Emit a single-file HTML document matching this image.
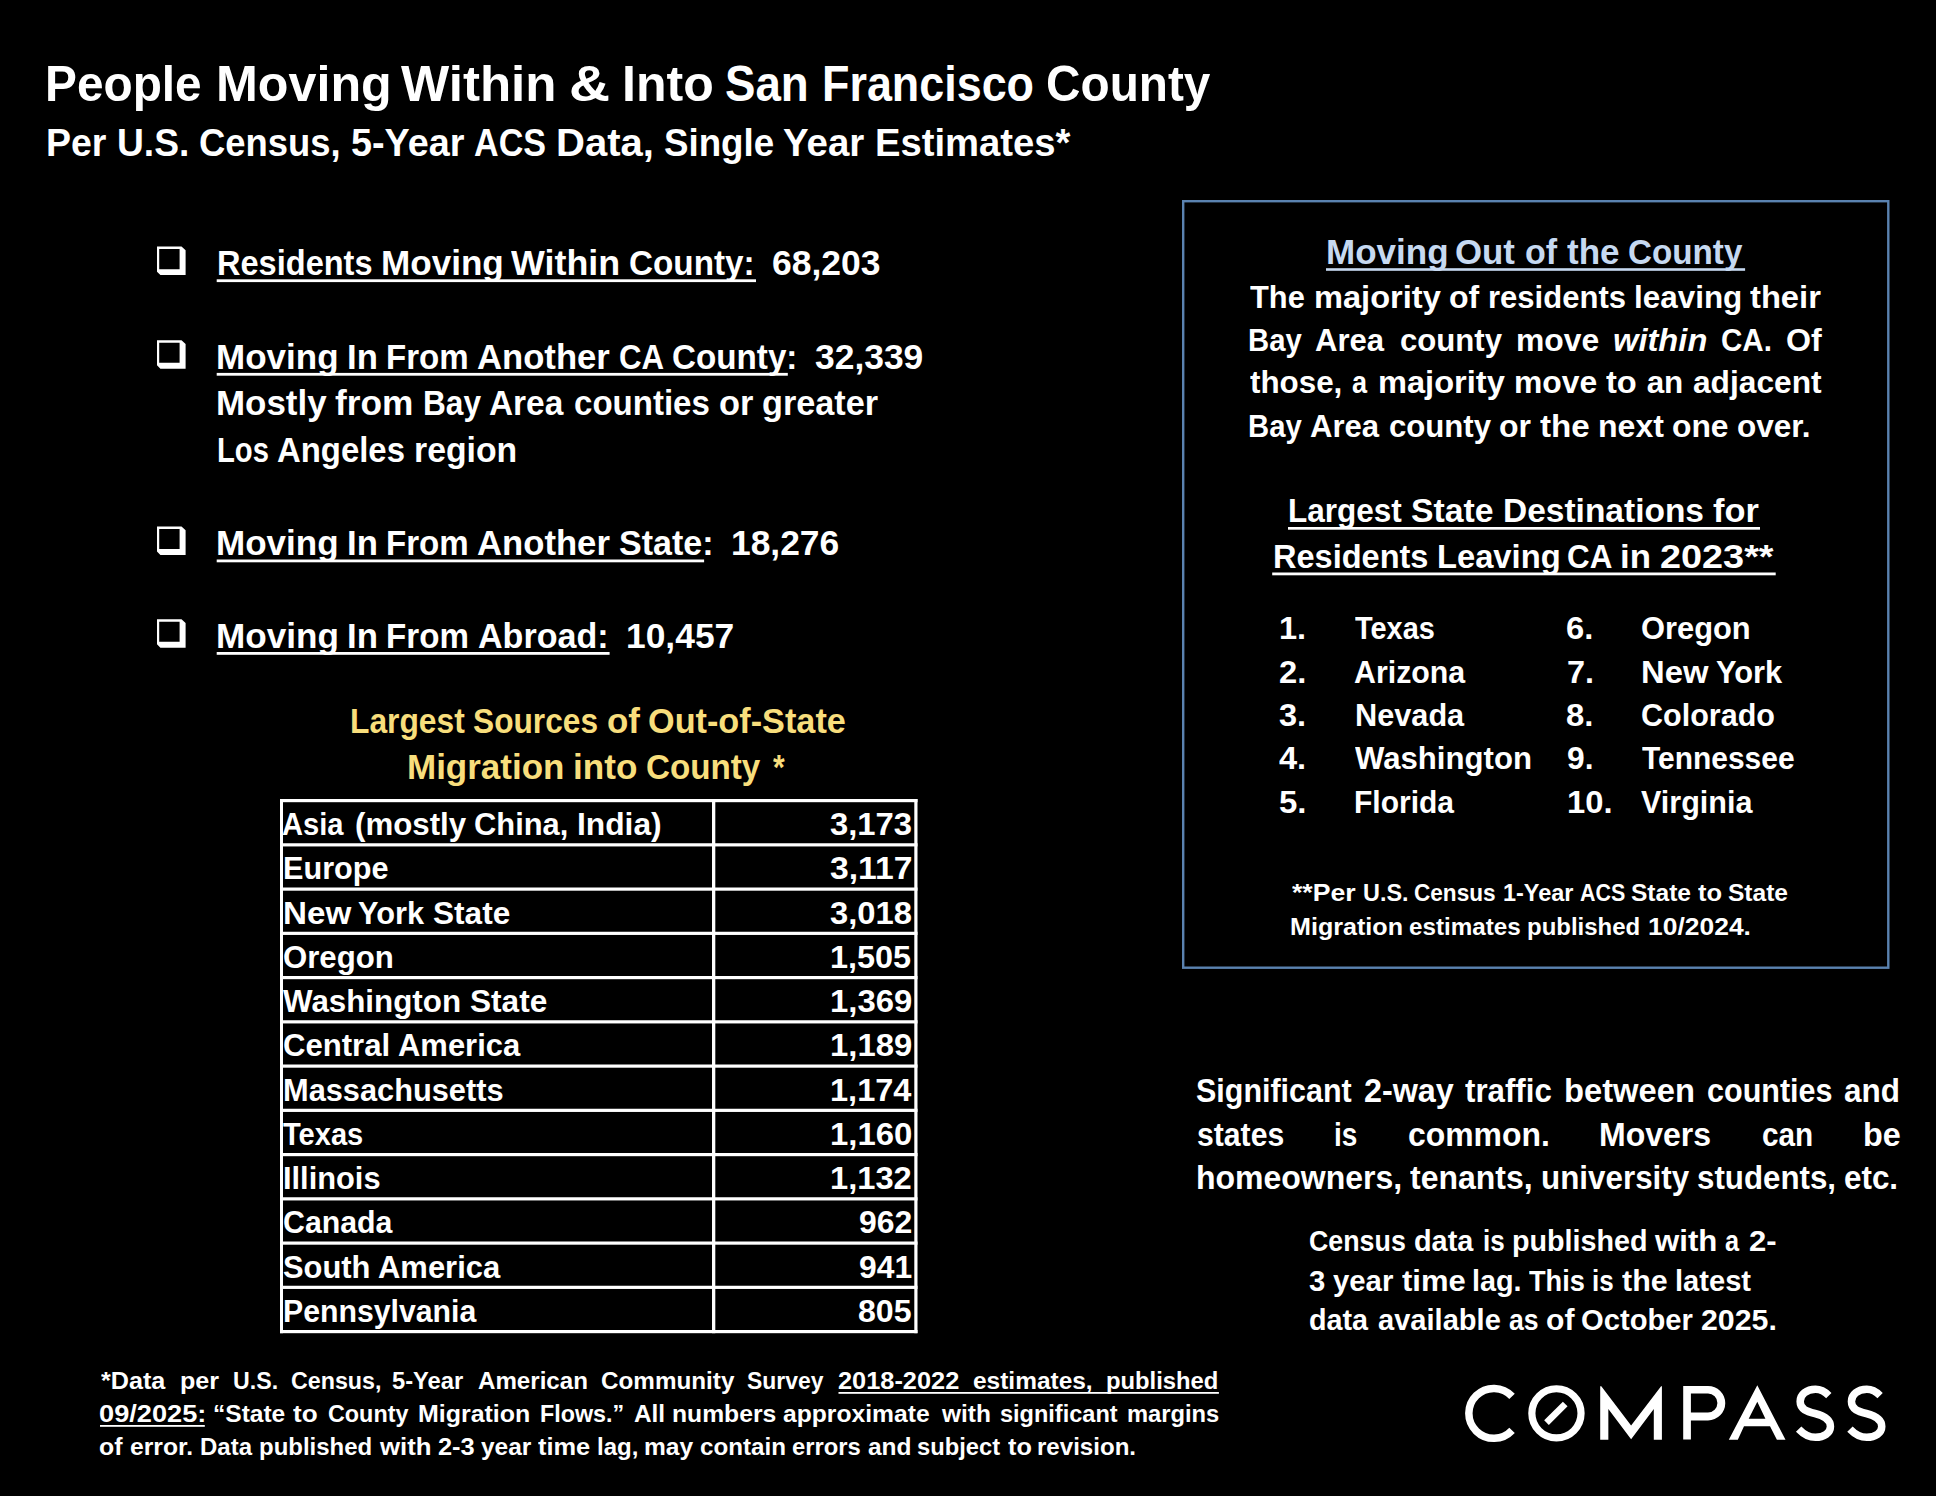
<!DOCTYPE html>
<html><head><meta charset="utf-8"><title>People Moving Within &amp; Into San Francisco County</title><style>html,body{margin:0;padding:0;background:#000;} body{position:relative;width:1936px;height:1496px;overflow:hidden;font-family:"Liberation Sans", sans-serif;font-weight:bold;color:#fff;} .l{position:absolute;white-space:pre;line-height:1;transform-origin:0 0;} i{font-style:italic;} .j{text-align:justify;text-align-last:justify;white-space:normal;}</style></head><body>
<div class="l" style="left:45.34px;top:58.60px;font-size:50.141px;transform:scaleX(0.9534);">People</div>
<div class="l" style="left:215.68px;top:58.60px;font-size:50.141px;transform:scaleX(1.0019);">Moving</div>
<div class="l" style="left:401.36px;top:58.60px;font-size:50.141px;transform:scaleX(1.0186);">Within</div>
<div class="l" style="left:568.98px;top:58.60px;font-size:50.141px;transform:scaleX(1.1350);">&amp;</div>
<div class="l" style="left:621.87px;top:58.60px;font-size:50.141px;transform:scaleX(0.9983);">Into</div>
<div class="l" style="left:725.11px;top:58.60px;font-size:50.141px;transform:scaleX(0.9110);">San</div>
<div class="l" style="left:821.85px;top:58.60px;font-size:50.141px;transform:scaleX(0.8954);">Francisco</div>
<div class="l" style="left:1045.68px;top:58.60px;font-size:50.141px;transform:scaleX(0.9525);">County</div>
<div class="l" style="left:45.67px;top:124.30px;font-size:38.732px;transform:scaleX(0.9673);">Per</div>
<div class="l" style="left:116.86px;top:124.30px;font-size:38.732px;transform:scaleX(0.9610);">U.S.</div>
<div class="l" style="left:198.74px;top:124.30px;font-size:38.732px;transform:scaleX(0.9408);">Census,</div>
<div class="l" style="left:350.77px;top:124.30px;font-size:38.732px;transform:scaleX(0.9752);">5-Year</div>
<div class="l" style="left:473.81px;top:124.30px;font-size:38.732px;transform:scaleX(0.8810);">ACS</div>
<div class="l" style="left:556.16px;top:124.30px;font-size:38.732px;transform:scaleX(1.0343);">Data,</div>
<div class="l" style="left:663.69px;top:124.30px;font-size:38.732px;transform:scaleX(0.9483);">Single</div>
<div class="l" style="left:782.83px;top:124.30px;font-size:38.732px;transform:scaleX(0.9928);">Year</div>
<div class="l" style="left:874.55px;top:124.30px;font-size:38.732px;transform:scaleX(0.9871);">Estimates*</div>
<div class="l" style="left:216.57px;top:246.10px;font-size:35.493px;transform:scaleX(0.9173);">Residents</div>
<div class="l" style="left:381.07px;top:246.10px;font-size:35.493px;transform:scaleX(0.9888);">Moving</div>
<div class="l" style="left:511.06px;top:246.10px;font-size:35.493px;transform:scaleX(1.0100);">Within</div>
<div class="l" style="left:628.78px;top:246.10px;font-size:35.493px;transform:scaleX(0.9378);">County:</div>
<div class="l" style="left:771.87px;top:246.10px;font-size:35.493px;transform:scaleX(0.9993);">68,203</div>
<div class="l" style="left:216.43px;top:339.70px;font-size:35.493px;transform:scaleX(0.9868);">Moving</div>
<div class="l" style="left:346.68px;top:339.70px;font-size:35.493px;transform:scaleX(0.9778);">In</div>
<div class="l" style="left:386.01px;top:339.70px;font-size:35.493px;transform:scaleX(0.9315);">From</div>
<div class="l" style="left:477.00px;top:339.70px;font-size:35.493px;transform:scaleX(0.9764);">Another</div>
<div class="l" style="left:619.01px;top:339.70px;font-size:35.493px;transform:scaleX(0.8801);">CA</div>
<div class="l" style="left:671.64px;top:339.70px;font-size:35.493px;transform:scaleX(0.9359);">County:</div>
<div class="l" style="left:814.61px;top:339.70px;font-size:35.493px;transform:scaleX(0.9980);">32,339</div>
<div class="l" style="left:216.43px;top:386.20px;font-size:35.493px;transform:scaleX(0.9844);">Mostly</div>
<div class="l" style="left:335.03px;top:386.20px;font-size:35.493px;transform:scaleX(0.9933);">from</div>
<div class="l" style="left:422.86px;top:386.20px;font-size:35.493px;transform:scaleX(0.8905);">Bay</div>
<div class="l" style="left:488.83px;top:386.20px;font-size:35.493px;transform:scaleX(0.9414);">Area</div>
<div class="l" style="left:574.09px;top:386.20px;font-size:35.493px;transform:scaleX(0.9311);">counties</div>
<div class="l" style="left:719.06px;top:386.20px;font-size:35.493px;transform:scaleX(0.9674);">or</div>
<div class="l" style="left:762.18px;top:386.20px;font-size:35.493px;transform:scaleX(0.9652);">greater</div>
<div class="l" style="left:216.75px;top:433.30px;font-size:35.493px;transform:scaleX(0.8232);">Los</div>
<div class="l" style="left:276.76px;top:433.30px;font-size:35.493px;transform:scaleX(0.9269);">Angeles</div>
<div class="l" style="left:413.74px;top:433.30px;font-size:35.493px;transform:scaleX(0.9515);">region</div>
<div class="l" style="left:216.43px;top:526.00px;font-size:35.493px;transform:scaleX(0.9874);">Moving</div>
<div class="l" style="left:346.77px;top:526.00px;font-size:35.493px;transform:scaleX(0.9784);">In</div>
<div class="l" style="left:386.12px;top:526.00px;font-size:35.493px;transform:scaleX(0.9322);">From</div>
<div class="l" style="left:477.17px;top:526.00px;font-size:35.493px;transform:scaleX(0.9770);">Another</div>
<div class="l" style="left:619.13px;top:526.00px;font-size:35.493px;transform:scaleX(0.9584);">State:</div>
<div class="l" style="left:730.72px;top:526.00px;font-size:35.493px;transform:scaleX(0.9970);">18,276</div>
<div class="l" style="left:216.42px;top:618.70px;font-size:35.493px;transform:scaleX(0.9893);">Moving</div>
<div class="l" style="left:347.01px;top:618.70px;font-size:35.493px;transform:scaleX(0.9803);">In</div>
<div class="l" style="left:386.44px;top:618.70px;font-size:35.493px;transform:scaleX(0.9339);">From</div>
<div class="l" style="left:477.68px;top:618.70px;font-size:35.493px;transform:scaleX(0.9596);">Abroad:</div>
<div class="l" style="left:625.89px;top:618.70px;font-size:35.493px;transform:scaleX(0.9973);">10,457</div>
<div class="l" style="left:349.59px;top:702.80px;font-size:35.070px;transform:scaleX(0.9060);color:#F8DE7C;">Largest</div>
<div class="l" style="left:472.90px;top:702.80px;font-size:35.070px;transform:scaleX(0.9034);color:#F8DE7C;">Sources</div>
<div class="l" style="left:606.61px;top:702.80px;font-size:35.070px;transform:scaleX(0.9951);color:#F8DE7C;">of</div>
<div class="l" style="left:648.29px;top:702.80px;font-size:35.070px;transform:scaleX(0.9768);color:#F8DE7C;">Out-of-State</div>
<div class="l" style="left:407.00px;top:749.40px;font-size:35.070px;transform:scaleX(0.9981);color:#F8DE7C;">Migration</div>
<div class="l" style="left:573.22px;top:749.40px;font-size:35.070px;transform:scaleX(1.0016);color:#F8DE7C;">into</div>
<div class="l" style="left:646.12px;top:749.40px;font-size:35.070px;transform:scaleX(0.9468);color:#F8DE7C;">County</div>
<div class="l" style="left:773.30px;top:749.40px;font-size:35.070px;transform:scaleX(0.8574);color:#F8DE7C;">*</div>
<div class="l" style="left:1326.16px;top:234.90px;font-size:34.366px;transform:scaleX(1.0192);color:#C6D9F1;">Moving</div>
<div class="l" style="left:1455.47px;top:234.90px;font-size:34.366px;transform:scaleX(1.0137);color:#C6D9F1;">Out</div>
<div class="l" style="left:1524.76px;top:234.90px;font-size:34.366px;transform:scaleX(0.9906);color:#C6D9F1;">of</div>
<div class="l" style="left:1566.68px;top:234.90px;font-size:34.366px;transform:scaleX(1.0208);color:#C6D9F1;">the</div>
<div class="l" style="left:1628.47px;top:234.90px;font-size:34.366px;transform:scaleX(0.9663);color:#C6D9F1;">County</div>
<div class="l" style="left:1250.00px;top:281.80px;font-size:31.408px;transform:scaleX(0.9814);">The</div>
<div class="l" style="left:1313.76px;top:281.80px;font-size:31.408px;transform:scaleX(1.0385);">majority</div>
<div class="l" style="left:1449.22px;top:281.80px;font-size:31.408px;transform:scaleX(1.0206);">of</div>
<div class="l" style="left:1488.43px;top:281.80px;font-size:31.408px;transform:scaleX(0.9885);">residents</div>
<div class="l" style="left:1634.47px;top:281.80px;font-size:31.408px;transform:scaleX(1.0013);">leaving</div>
<div class="l" style="left:1749.84px;top:281.80px;font-size:31.408px;transform:scaleX(1.0420);">their</div>
<div class="l" style="left:1248.14px;top:324.80px;font-size:31.408px;transform:scaleX(0.9321);">Bay</div>
<div class="l" style="left:1315.02px;top:324.80px;font-size:31.408px;transform:scaleX(0.9901);">Area</div>
<div class="l" style="left:1399.74px;top:324.80px;font-size:31.408px;transform:scaleX(0.9917);">county</div>
<div class="l" style="left:1515.86px;top:324.80px;font-size:31.408px;transform:scaleX(1.0151);">move</div>
<div class="l" style="left:1612.94px;top:324.80px;font-size:31.408px;transform:scaleX(1.0404);"><i>within</i></div>
<div class="l" style="left:1721.28px;top:324.80px;font-size:31.408px;transform:scaleX(0.9410);">CA.</div>
<div class="l" style="left:1785.73px;top:324.80px;font-size:31.408px;transform:scaleX(1.0249);">Of</div>
<div class="l" style="left:1250.00px;top:367.30px;font-size:31.408px;transform:scaleX(0.9980);">those,</div>
<div class="l" style="left:1351.93px;top:367.30px;font-size:31.408px;transform:scaleX(0.8622);">a</div>
<div class="l" style="left:1378.22px;top:367.30px;font-size:31.408px;transform:scaleX(1.0385);">majority</div>
<div class="l" style="left:1514.04px;top:367.30px;font-size:31.408px;transform:scaleX(1.0151);">move</div>
<div class="l" style="left:1606.41px;top:367.30px;font-size:31.408px;transform:scaleX(1.0388);">to</div>
<div class="l" style="left:1646.63px;top:367.30px;font-size:31.408px;transform:scaleX(1.0000);">an</div>
<div class="l" style="left:1692.51px;top:367.30px;font-size:31.408px;transform:scaleX(1.0093);">adjacent</div>
<div class="l" style="left:1248.14px;top:410.80px;font-size:31.408px;transform:scaleX(0.9321);">Bay</div>
<div class="l" style="left:1309.61px;top:410.80px;font-size:31.408px;transform:scaleX(0.9901);">Area</div>
<div class="l" style="left:1388.92px;top:410.80px;font-size:31.408px;transform:scaleX(0.9917);">county</div>
<div class="l" style="left:1499.48px;top:410.80px;font-size:31.408px;transform:scaleX(1.0200);">or</div>
<div class="l" style="left:1540.12px;top:410.80px;font-size:31.408px;transform:scaleX(1.0566);">the</div>
<div class="l" style="left:1598.11px;top:410.80px;font-size:31.408px;transform:scaleX(1.0215);">next</div>
<div class="l" style="left:1672.25px;top:410.80px;font-size:31.408px;transform:scaleX(1.0136);">one</div>
<div class="l" style="left:1737.34px;top:410.80px;font-size:31.408px;transform:scaleX(1.0037);">over.</div>
<div class="l" style="left:1288.37px;top:494.60px;font-size:32.676px;transform:scaleX(0.9649);">Largest</div>
<div class="l" style="left:1411.22px;top:494.60px;font-size:32.676px;transform:scaleX(1.0328);">State</div>
<div class="l" style="left:1502.86px;top:494.60px;font-size:32.676px;transform:scaleX(1.0256);">Destinations</div>
<div class="l" style="left:1712.95px;top:494.60px;font-size:32.676px;transform:scaleX(1.0522);">for</div>
<div class="l" style="left:1272.81px;top:541.00px;font-size:32.676px;transform:scaleX(0.9959);">Residents</div>
<div class="l" style="left:1436.98px;top:541.00px;font-size:32.676px;transform:scaleX(1.0018);">Leaving</div>
<div class="l" style="left:1567.23px;top:541.00px;font-size:32.676px;transform:scaleX(0.9610);">CA</div>
<div class="l" style="left:1619.80px;top:541.00px;font-size:32.676px;transform:scaleX(1.0650);">in</div>
<div class="l" style="left:1659.51px;top:541.00px;font-size:32.676px;transform:scaleX(1.1581);">2023**</div>
<div class="l" style="left:1291.80px;top:881.20px;font-size:23.944px;transform:scaleX(1.1135);">**Per</div>
<div class="l" style="left:1362.58px;top:881.20px;font-size:23.944px;transform:scaleX(0.9775);">U.S.</div>
<div class="l" style="left:1414.20px;top:881.20px;font-size:23.944px;transform:scaleX(0.9432);">Census</div>
<div class="l" style="left:1503.26px;top:881.20px;font-size:23.944px;transform:scaleX(0.9806);">1-Year</div>
<div class="l" style="left:1579.77px;top:881.20px;font-size:23.944px;transform:scaleX(0.8953);">ACS</div>
<div class="l" style="left:1631.23px;top:881.20px;font-size:23.944px;transform:scaleX(1.0251);">State</div>
<div class="l" style="left:1698.14px;top:881.20px;font-size:23.944px;transform:scaleX(1.0646);">to</div>
<div class="l" style="left:1728.24px;top:881.20px;font-size:23.944px;transform:scaleX(1.0251);">State</div>
<div class="l" style="left:1289.95px;top:914.50px;font-size:23.944px;transform:scaleX(1.0492);">Migration</div>
<div class="l" style="left:1408.76px;top:914.50px;font-size:23.944px;transform:scaleX(1.0117);">estimates</div>
<div class="l" style="left:1526.71px;top:914.50px;font-size:23.944px;transform:scaleX(1.0010);">published</div>
<div class="l" style="left:1647.56px;top:914.50px;font-size:23.944px;transform:scaleX(1.1047);">10/2024.</div>
<div class="l" style="left:1196.48px;top:1075.10px;font-size:32.958px;transform:scaleX(0.9246);">Significant</div>
<div class="l" style="left:1363.82px;top:1075.10px;font-size:32.958px;transform:scaleX(0.9811);">2-way</div>
<div class="l" style="left:1465.20px;top:1075.10px;font-size:32.958px;transform:scaleX(0.9484);">traffic</div>
<div class="l" style="left:1563.81px;top:1075.10px;font-size:32.958px;transform:scaleX(0.9930);">between</div>
<div class="l" style="left:1707.27px;top:1075.10px;font-size:32.958px;transform:scaleX(0.9271);">counties</div>
<div class="l" style="left:1843.94px;top:1075.10px;font-size:32.958px;transform:scaleX(0.9554);">and</div>
<div class="l" style="left:1196.88px;top:1118.70px;font-size:32.958px;transform:scaleX(0.9161);">states</div>
<div class="l" style="left:1334.30px;top:1118.70px;font-size:32.958px;transform:scaleX(0.8500);">is</div>
<div class="l" style="left:1407.53px;top:1118.70px;font-size:32.958px;transform:scaleX(0.9685);">common.</div>
<div class="l" style="left:1599.26px;top:1118.70px;font-size:32.958px;transform:scaleX(0.9723);">Movers</div>
<div class="l" style="left:1761.80px;top:1118.70px;font-size:32.958px;transform:scaleX(0.9019);">can</div>
<div class="l" style="left:1862.93px;top:1118.70px;font-size:32.958px;transform:scaleX(0.9829);">be</div>
<div class="l" style="left:1195.86px;top:1161.80px;font-size:32.958px;transform:scaleX(0.9712);">homeowners,</div>
<div class="l" style="left:1410.29px;top:1161.80px;font-size:32.958px;transform:scaleX(0.9709);">tenants,</div>
<div class="l" style="left:1540.79px;top:1161.80px;font-size:32.958px;transform:scaleX(0.9525);">university</div>
<div class="l" style="left:1696.72px;top:1161.80px;font-size:32.958px;transform:scaleX(0.9497);">students,</div>
<div class="l" style="left:1843.78px;top:1161.80px;font-size:32.958px;transform:scaleX(0.9531);">etc.</div>
<div class="l" style="left:1309.20px;top:1226.30px;font-size:29.859px;transform:scaleX(0.8979);">Census</div>
<div class="l" style="left:1413.71px;top:1226.30px;font-size:29.859px;transform:scaleX(0.9658);">data</div>
<div class="l" style="left:1482.56px;top:1226.30px;font-size:29.859px;transform:scaleX(0.8707);">is</div>
<div class="l" style="left:1511.90px;top:1226.30px;font-size:29.859px;transform:scaleX(0.9616);">published</div>
<div class="l" style="left:1655.23px;top:1226.30px;font-size:29.859px;transform:scaleX(1.0443);">with</div>
<div class="l" style="left:1725.39px;top:1226.30px;font-size:29.859px;transform:scaleX(0.8455);">a</div>
<div class="l" style="left:1749.10px;top:1226.30px;font-size:29.859px;transform:scaleX(1.0400);">2-</div>
<div class="l" style="left:1309.12px;top:1265.60px;font-size:29.859px;transform:scaleX(0.9810);">3</div>
<div class="l" style="left:1333.32px;top:1265.60px;font-size:29.859px;transform:scaleX(0.9820);">year</div>
<div class="l" style="left:1401.55px;top:1265.60px;font-size:29.859px;transform:scaleX(1.0377);">time</div>
<div class="l" style="left:1472.45px;top:1265.60px;font-size:29.859px;transform:scaleX(0.9638);">lag.</div>
<div class="l" style="left:1529.47px;top:1265.60px;font-size:29.859px;transform:scaleX(0.9114);">This</div>
<div class="l" style="left:1592.24px;top:1265.60px;font-size:29.859px;transform:scaleX(0.8707);">is</div>
<div class="l" style="left:1621.82px;top:1265.60px;font-size:29.859px;transform:scaleX(1.0196);">the</div>
<div class="l" style="left:1675.30px;top:1265.60px;font-size:29.859px;transform:scaleX(0.9756);">latest</div>
<div class="l" style="left:1309.14px;top:1305.00px;font-size:29.859px;transform:scaleX(0.9632);">data</div>
<div class="l" style="left:1378.30px;top:1305.00px;font-size:29.859px;transform:scaleX(0.9740);">available</div>
<div class="l" style="left:1508.85px;top:1305.00px;font-size:29.859px;transform:scaleX(0.8909);">as</div>
<div class="l" style="left:1545.71px;top:1305.00px;font-size:29.859px;transform:scaleX(1.0091);">of</div>
<div class="l" style="left:1581.39px;top:1305.00px;font-size:29.859px;transform:scaleX(0.9778);">October</div>
<div class="l" style="left:1700.96px;top:1305.00px;font-size:29.859px;transform:scaleX(1.0156);">2025.</div>
<div class="l" style="left:101.00px;top:1368.50px;font-size:23.944px;transform:scaleX(1.0516);">*Data</div>
<div class="l" style="left:179.80px;top:1368.50px;font-size:23.944px;transform:scaleX(1.0486);">per</div>
<div class="l" style="left:232.63px;top:1368.50px;font-size:23.944px;transform:scaleX(0.9682);">U.S.</div>
<div class="l" style="left:291.03px;top:1368.50px;font-size:23.944px;transform:scaleX(0.9714);">Census,</div>
<div class="l" style="left:391.71px;top:1368.50px;font-size:23.944px;transform:scaleX(0.9915);">5-Year</div>
<div class="l" style="left:477.89px;top:1368.50px;font-size:23.944px;transform:scaleX(1.0075);">American</div>
<div class="l" style="left:600.69px;top:1368.50px;font-size:23.944px;transform:scaleX(1.0131);">Community</div>
<div class="l" style="left:747.44px;top:1368.50px;font-size:23.944px;transform:scaleX(0.9570);">Survey</div>
<div class="l" style="left:837.94px;top:1368.50px;font-size:23.944px;transform:scaleX(1.0593);">2018-2022</div>
<div class="l" style="left:973.48px;top:1368.50px;font-size:23.944px;transform:scaleX(1.0217);">estimates,</div>
<div class="l" style="left:1105.81px;top:1368.50px;font-size:23.944px;transform:scaleX(0.9936);">published</div>
<div class="l" style="left:99.06px;top:1401.80px;font-size:23.944px;transform:scaleX(1.1363);">09/2025:</div>
<div class="l" style="left:212.75px;top:1401.80px;font-size:23.944px;transform:scaleX(1.0250);">“State</div>
<div class="l" style="left:292.70px;top:1401.80px;font-size:23.944px;transform:scaleX(1.0909);">to</div>
<div class="l" style="left:327.72px;top:1401.80px;font-size:23.944px;transform:scaleX(0.9753);">County</div>
<div class="l" style="left:417.86px;top:1401.80px;font-size:23.944px;transform:scaleX(1.0419);">Migration</div>
<div class="l" style="left:540.03px;top:1401.80px;font-size:23.944px;transform:scaleX(0.9726);">Flows.”</div>
<div class="l" style="left:633.58px;top:1401.80px;font-size:23.944px;transform:scaleX(1.0179);">All</div>
<div class="l" style="left:672.14px;top:1401.80px;font-size:23.944px;transform:scaleX(1.0316);">numbers</div>
<div class="l" style="left:783.27px;top:1401.80px;font-size:23.944px;transform:scaleX(1.0305);">approximate</div>
<div class="l" style="left:942.20px;top:1401.80px;font-size:23.944px;transform:scaleX(1.0213);">with</div>
<div class="l" style="left:1000.42px;top:1401.80px;font-size:23.944px;transform:scaleX(0.9824);">significant</div>
<div class="l" style="left:1126.72px;top:1401.80px;font-size:23.944px;transform:scaleX(0.9911);">margins</div>
<div class="l" style="left:99.46px;top:1434.70px;font-size:23.944px;transform:scaleX(1.0376);">of</div>
<div class="l" style="left:129.54px;top:1434.70px;font-size:23.944px;transform:scaleX(1.0303);">error.</div>
<div class="l" style="left:199.87px;top:1434.70px;font-size:23.944px;transform:scaleX(1.0023);">Data</div>
<div class="l" style="left:259.38px;top:1434.70px;font-size:23.944px;transform:scaleX(1.0008);">published</div>
<div class="l" style="left:379.54px;top:1434.70px;font-size:23.944px;transform:scaleX(1.0769);">with</div>
<div class="l" style="left:437.76px;top:1434.70px;font-size:23.944px;transform:scaleX(1.0610);">2-3</div>
<div class="l" style="left:480.94px;top:1434.70px;font-size:23.944px;transform:scaleX(1.0215);">year</div>
<div class="l" style="left:537.95px;top:1434.70px;font-size:23.944px;transform:scaleX(1.0617);">time</div>
<div class="l" style="left:596.80px;top:1434.70px;font-size:23.944px;transform:scaleX(1.0033);">lag,</div>
<div class="l" style="left:644.44px;top:1434.70px;font-size:23.944px;transform:scaleX(1.0255);">may</div>
<div class="l" style="left:699.83px;top:1434.70px;font-size:23.944px;transform:scaleX(1.0099);">contain</div>
<div class="l" style="left:792.26px;top:1434.70px;font-size:23.944px;transform:scaleX(0.9927);">errors</div>
<div class="l" style="left:867.72px;top:1434.70px;font-size:23.944px;transform:scaleX(1.0231);">and</div>
<div class="l" style="left:917.35px;top:1434.70px;font-size:23.944px;transform:scaleX(0.9912);">subject</div>
<div class="l" style="left:1007.57px;top:1434.70px;font-size:23.944px;transform:scaleX(1.0561);">to</div>
<div class="l" style="left:1037.42px;top:1434.70px;font-size:23.944px;transform:scaleX(1.0060);">revision.</div>
<div class="l" style="left:282.08px;top:809.20px;font-size:31.549px;transform:scaleX(0.9236);">Asia</div>
<div class="l" style="left:355.19px;top:809.20px;font-size:31.549px;transform:scaleX(0.9909);">(mostly</div>
<div class="l" style="left:474.26px;top:809.20px;font-size:31.549px;transform:scaleX(0.9788);">China,</div>
<div class="l" style="left:576.86px;top:809.20px;font-size:31.549px;transform:scaleX(1.0065);">India)</div>
<div class="l" style="left:830.30px;top:809.20px;font-size:31.549px;transform:scaleX(1.0398);">3,173</div>
<div class="l" style="left:283.06px;top:853.45px;font-size:31.549px;transform:scaleX(0.9721);">Europe</div>
<div class="l" style="left:830.27px;top:853.45px;font-size:31.549px;transform:scaleX(1.0682);">3,117</div>
<div class="l" style="left:282.97px;top:897.70px;font-size:31.549px;transform:scaleX(1.0528);">New</div>
<div class="l" style="left:358.44px;top:897.70px;font-size:31.549px;transform:scaleX(0.9758);">York</div>
<div class="l" style="left:432.84px;top:897.70px;font-size:31.549px;transform:scaleX(1.0015);">State</div>
<div class="l" style="left:830.30px;top:897.70px;font-size:31.549px;transform:scaleX(1.0388);">3,018</div>
<div class="l" style="left:282.79px;top:941.95px;font-size:31.549px;transform:scaleX(0.9881);">Oregon</div>
<div class="l" style="left:830.36px;top:941.95px;font-size:31.549px;transform:scaleX(1.0284);">1,505</div>
<div class="l" style="left:283.09px;top:986.20px;font-size:31.549px;transform:scaleX(0.9932);">Washington</div>
<div class="l" style="left:469.59px;top:986.20px;font-size:31.549px;transform:scaleX(1.0015);">State</div>
<div class="l" style="left:830.33px;top:986.20px;font-size:31.549px;transform:scaleX(1.0423);">1,369</div>
<div class="l" style="left:282.68px;top:1030.45px;font-size:31.549px;transform:scaleX(0.9860);">Central</div>
<div class="l" style="left:397.61px;top:1030.45px;font-size:31.549px;transform:scaleX(0.9819);">America</div>
<div class="l" style="left:830.33px;top:1030.45px;font-size:31.549px;transform:scaleX(1.0423);">1,189</div>
<div class="l" style="left:283.43px;top:1074.70px;font-size:31.549px;transform:scaleX(0.9757);">Massachusetts</div>
<div class="l" style="left:830.35px;top:1074.70px;font-size:31.549px;transform:scaleX(1.0318);">1,174</div>
<div class="l" style="left:283.25px;top:1118.95px;font-size:31.549px;transform:scaleX(0.9219);">Texas</div>
<div class="l" style="left:830.33px;top:1118.95px;font-size:31.549px;transform:scaleX(1.0428);">1,160</div>
<div class="l" style="left:283.46px;top:1163.20px;font-size:31.549px;transform:scaleX(0.9769);">Illinois</div>
<div class="l" style="left:830.34px;top:1163.20px;font-size:31.549px;transform:scaleX(1.0361);">1,132</div>
<div class="l" style="left:282.71px;top:1207.45px;font-size:31.549px;transform:scaleX(0.9609);">Canada</div>
<div class="l" style="left:858.52px;top:1207.45px;font-size:31.549px;transform:scaleX(1.0123);">962</div>
<div class="l" style="left:282.62px;top:1251.70px;font-size:31.549px;transform:scaleX(0.9781);">South</div>
<div class="l" style="left:377.80px;top:1251.70px;font-size:31.549px;transform:scaleX(0.9819);">America</div>
<div class="l" style="left:858.52px;top:1251.70px;font-size:31.549px;transform:scaleX(1.0102);">941</div>
<div class="l" style="left:283.04px;top:1295.95px;font-size:31.549px;transform:scaleX(0.9585);">Pennsylvania</div>
<div class="l" style="left:857.63px;top:1295.95px;font-size:31.549px;transform:scaleX(1.0181);">805</div>
<div class="l" style="left:1278.90px;top:613.10px;font-size:30.986px;transform:scaleX(1.0507);">1.</div>
<div class="l" style="left:1354.80px;top:613.10px;font-size:30.986px;transform:scaleX(0.9338);">Texas</div>
<div class="l" style="left:1278.76px;top:656.50px;font-size:30.986px;transform:scaleX(1.0565);">2.</div>
<div class="l" style="left:1353.58px;top:656.50px;font-size:30.986px;transform:scaleX(0.9792);">Arizona</div>
<div class="l" style="left:1278.88px;top:699.90px;font-size:30.986px;transform:scaleX(1.0512);">3.</div>
<div class="l" style="left:1354.63px;top:699.90px;font-size:30.986px;transform:scaleX(0.9911);">Nevada</div>
<div class="l" style="left:1278.87px;top:743.30px;font-size:30.986px;transform:scaleX(1.0517);">4.</div>
<div class="l" style="left:1354.65px;top:743.30px;font-size:30.986px;transform:scaleX(1.0052);">Washington</div>
<div class="l" style="left:1278.57px;top:786.70px;font-size:30.986px;transform:scaleX(1.0641);">5.</div>
<div class="l" style="left:1354.45px;top:786.70px;font-size:30.986px;transform:scaleX(0.9683);">Florida</div>
<div class="l" style="left:1566.44px;top:613.10px;font-size:30.986px;transform:scaleX(1.0580);">6.</div>
<div class="l" style="left:1641.10px;top:613.10px;font-size:30.986px;transform:scaleX(0.9958);">Oregon</div>
<div class="l" style="left:1566.71px;top:656.50px;font-size:30.986px;transform:scaleX(1.0467);">7.</div>
<div class="l" style="left:1641.27px;top:656.50px;font-size:30.986px;transform:scaleX(1.0583);">New</div>
<div class="l" style="left:1715.93px;top:656.50px;font-size:30.986px;transform:scaleX(0.9950);">York</div>
<div class="l" style="left:1566.33px;top:699.90px;font-size:30.986px;transform:scaleX(1.0626);">8.</div>
<div class="l" style="left:1641.01px;top:699.90px;font-size:30.986px;transform:scaleX(0.9852);">Colorado</div>
<div class="l" style="left:1567.24px;top:743.30px;font-size:30.986px;transform:scaleX(1.0247);">9.</div>
<div class="l" style="left:1641.57px;top:743.30px;font-size:30.986px;transform:scaleX(0.9667);">Tennessee</div>
<div class="l" style="left:1566.60px;top:786.70px;font-size:30.986px;transform:scaleX(1.0563);">10.</div>
<div class="l" style="left:1641.28px;top:786.70px;font-size:30.986px;transform:scaleX(0.9863);">Virginia</div>
<!-- checkboxes -->
<svg style="position:absolute;left:0;top:0" width="1936" height="1496" viewBox="0 0 1936 1496">
<defs><path id="cb" fill="#fff" fill-rule="evenodd" d="M0 0H24.5L28.6 3.7V28.5H3.4L0 25.1Z M2.2 2.5V22.6H22.6V2.5Z"/></defs>
<use href="#cb" x="157" y="246.6"/>
<use href="#cb" x="157" y="340.2"/>
<use href="#cb" x="157" y="526.5"/>
<use href="#cb" x="157" y="619.2"/>
<!-- underlines -->
<g fill="#fff">
<rect x="216.7" y="279.3" width="539.3" height="2.8"/>
<rect x="216.7" y="372.9" width="571.1" height="2.8"/>
<rect x="216.7" y="559.5" width="487.4" height="2.8"/>
<rect x="216.7" y="652" width="392.9" height="2.8"/>
<rect x="1288" y="527" width="472" height="2.7"/>
<rect x="1272.2" y="572.5" width="503.5" height="2.8"/>
<rect x="838.5" y="1392" width="380.4" height="1.8"/>
<rect x="100" y="1425" width="104.8" height="1.8"/>
</g>
<rect x="1326" y="268.2" width="419.1" height="2.6" fill="#C6D9F1"/>
<!-- box -->
<rect x="1183.2" y="201.2" width="705.1" height="766.5" fill="none" stroke="#5A82B0" stroke-width="2.4"/>
<!-- table -->
<g fill="#fff">
<rect x="280" y="799" width="637.5" height="3.2"/>
<rect x="280" y="1330" width="637.5" height="3.2"/>
<rect x="280" y="799" width="3" height="534.2"/>
<rect x="914.3" y="799" width="3.2" height="534.2"/>
<rect x="712" y="799" width="3.3" height="534.2"/>
<rect x="280" y="843.25" width="637.5" height="3.2"/>
<rect x="280" y="887.5" width="637.5" height="3.2"/>
<rect x="280" y="931.75" width="637.5" height="3.2"/>
<rect x="280" y="976" width="637.5" height="3.2"/>
<rect x="280" y="1020.25" width="637.5" height="3.2"/>
<rect x="280" y="1064.5" width="637.5" height="3.2"/>
<rect x="280" y="1108.75" width="637.5" height="3.2"/>
<rect x="280" y="1153" width="637.5" height="3.2"/>
<rect x="280" y="1197.25" width="637.5" height="3.2"/>
<rect x="280" y="1241.5" width="637.5" height="3.2"/>
<rect x="280" y="1285.75" width="637.5" height="3.2"/>
</g>
<!-- COMPASS logo -->
<g fill="none" stroke="#fff" stroke-width="7.5">
<path d="M1512.05 1396.35 A24.95 24.95 0 1 0 1512.05 1430.35"/>
<circle cx="1556.45" cy="1413.35" r="24.6" stroke-width="7.2"/>
<path d="M1546.5 1422.7 L1565.2 1404" stroke-width="6.6"/>
<path d="M1828.8 1395.6 C1826.3 1393.1 1821.5 1389.35 1815.5 1389.35 C1806.5 1389.35 1800.15 1394.5 1800.15 1401.5 C1800.15 1409.5 1807 1411.5 1815 1413.5 C1824 1415.7 1830.45 1419 1830.45 1426.5 C1830.45 1433 1824 1437.35 1815.5 1437.35 C1808 1437.35 1801.5 1432 1798.65 1429.05"/>
<path d="M1880.1 1395.6 C1877.6 1393.1 1872.8 1389.35 1866.8 1389.35 C1857.8 1389.35 1851.45 1394.5 1851.45 1401.5 C1851.45 1409.5 1858.3 1411.5 1866.3 1413.5 C1875.3 1415.7 1881.75 1419 1881.75 1426.5 C1881.75 1433 1875.3 1437.35 1866.8 1437.35 C1859.3 1437.35 1852.8 1432 1849.95 1429.05"/>
</g>
<g fill="#fff" fill-rule="evenodd">
<path d="M1600.2 1439.8 V1386.2 H1601.3 L1631.1 1425.4 L1661.1 1386.2 H1661.9 V1439.8 H1653.8 V1409.1 L1631.1 1439.3 L1608.35 1409.1 V1439.8 Z"/>
<path d="M1683.2 1439.6 V1385.9 H1708 A17.25 17.25 0 0 1 1708 1420.4 H1690.9 V1439.6 Z M1690.9 1393.6 V1412.4 H1708 A9.4 9.4 0 0 0 1708 1393.6 Z"/>
<path d="M1728.8 1439.8 L1757.3 1385.3 L1785.5 1439.8 H1776.9 L1770 1426.2 H1744 L1737.8 1439.8 Z M1748.7 1418.7 H1765.4 L1757.3 1401.7 Z"/>
</g>
</svg>

</body></html>
